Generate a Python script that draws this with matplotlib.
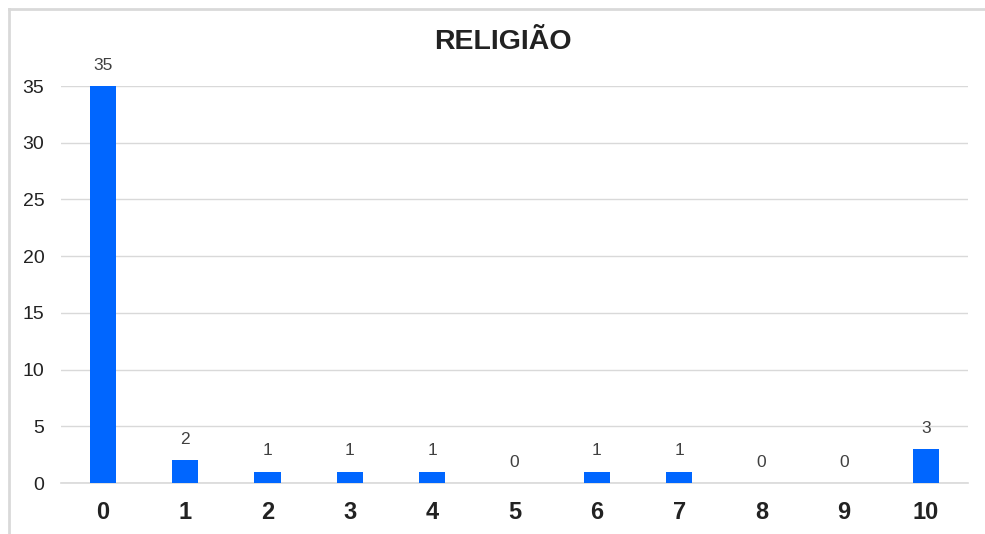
import matplotlib.pyplot as plt
from matplotlib.lines import Line2D

plt.rcParams['font.family'] = ['Liberation Sans', 'DejaVu Sans']

# respostas por nota (0 a 10)
notas = ['0', '1', '2', '3', '4', '5', '6', '7', '8', '9', '10']
contagem = [35, 2, 1, 1, 1, 0, 1, 1, 0, 0, 3]
y_ticks = [0, 5, 10, 15, 20, 25, 30, 35]

fig = plt.figure(figsize=(9.85, 5.34), dpi=100)
ax = fig.add_axes([61 / 985, 51 / 534, 907 / 985, 397 / 534])

x = list(range(len(notas)))
ax.bar(x, contagem, width=0.32, color='#0066ff', zorder=3)

for xi, v in zip(x, contagem):
    ax.annotate(str(v), (xi, v), xytext=(0, 15), textcoords='offset points',
                ha='center', va='center', fontsize=12.5, color='#404040',
                annotation_clip=False)

ax.set_xlim(-0.51, 10.51)
ax.set_ylim(0, 35)
ax.set_yticks(y_ticks)
ax.set_xticks(x)
ax.set_xticklabels(notas, fontsize=17, fontweight='bold', color='#222222')
ax.tick_params(axis='y', labelsize=14, colors='#222222', length=0, pad=12)
ax.tick_params(axis='x', length=0, pad=13)
ax.yaxis.grid(True, color='#d9d9d9', linewidth=1, zorder=0)
ax.axhline(0, color='#d9d9d9', linewidth=1.2, zorder=1, clip_on=False)
for s in ax.spines.values():
    s.set_visible(False)

fig.text(503 / 985, 1 - 42 / 534, 'RELIGIÃO', ha='center', va='center',
         fontsize=20.5, fontweight='bold', color='#222222')

# moldura do gráfico
fig.add_artist(Line2D([9 / 985, 1], [1 - 9 / 534] * 2, color='#d9d9d9', linewidth=2))
fig.add_artist(Line2D([9 / 985] * 2, [0, 1 - 9 / 534], color='#d9d9d9', linewidth=2))

fig.savefig('out.png', dpi=100, facecolor='white')
